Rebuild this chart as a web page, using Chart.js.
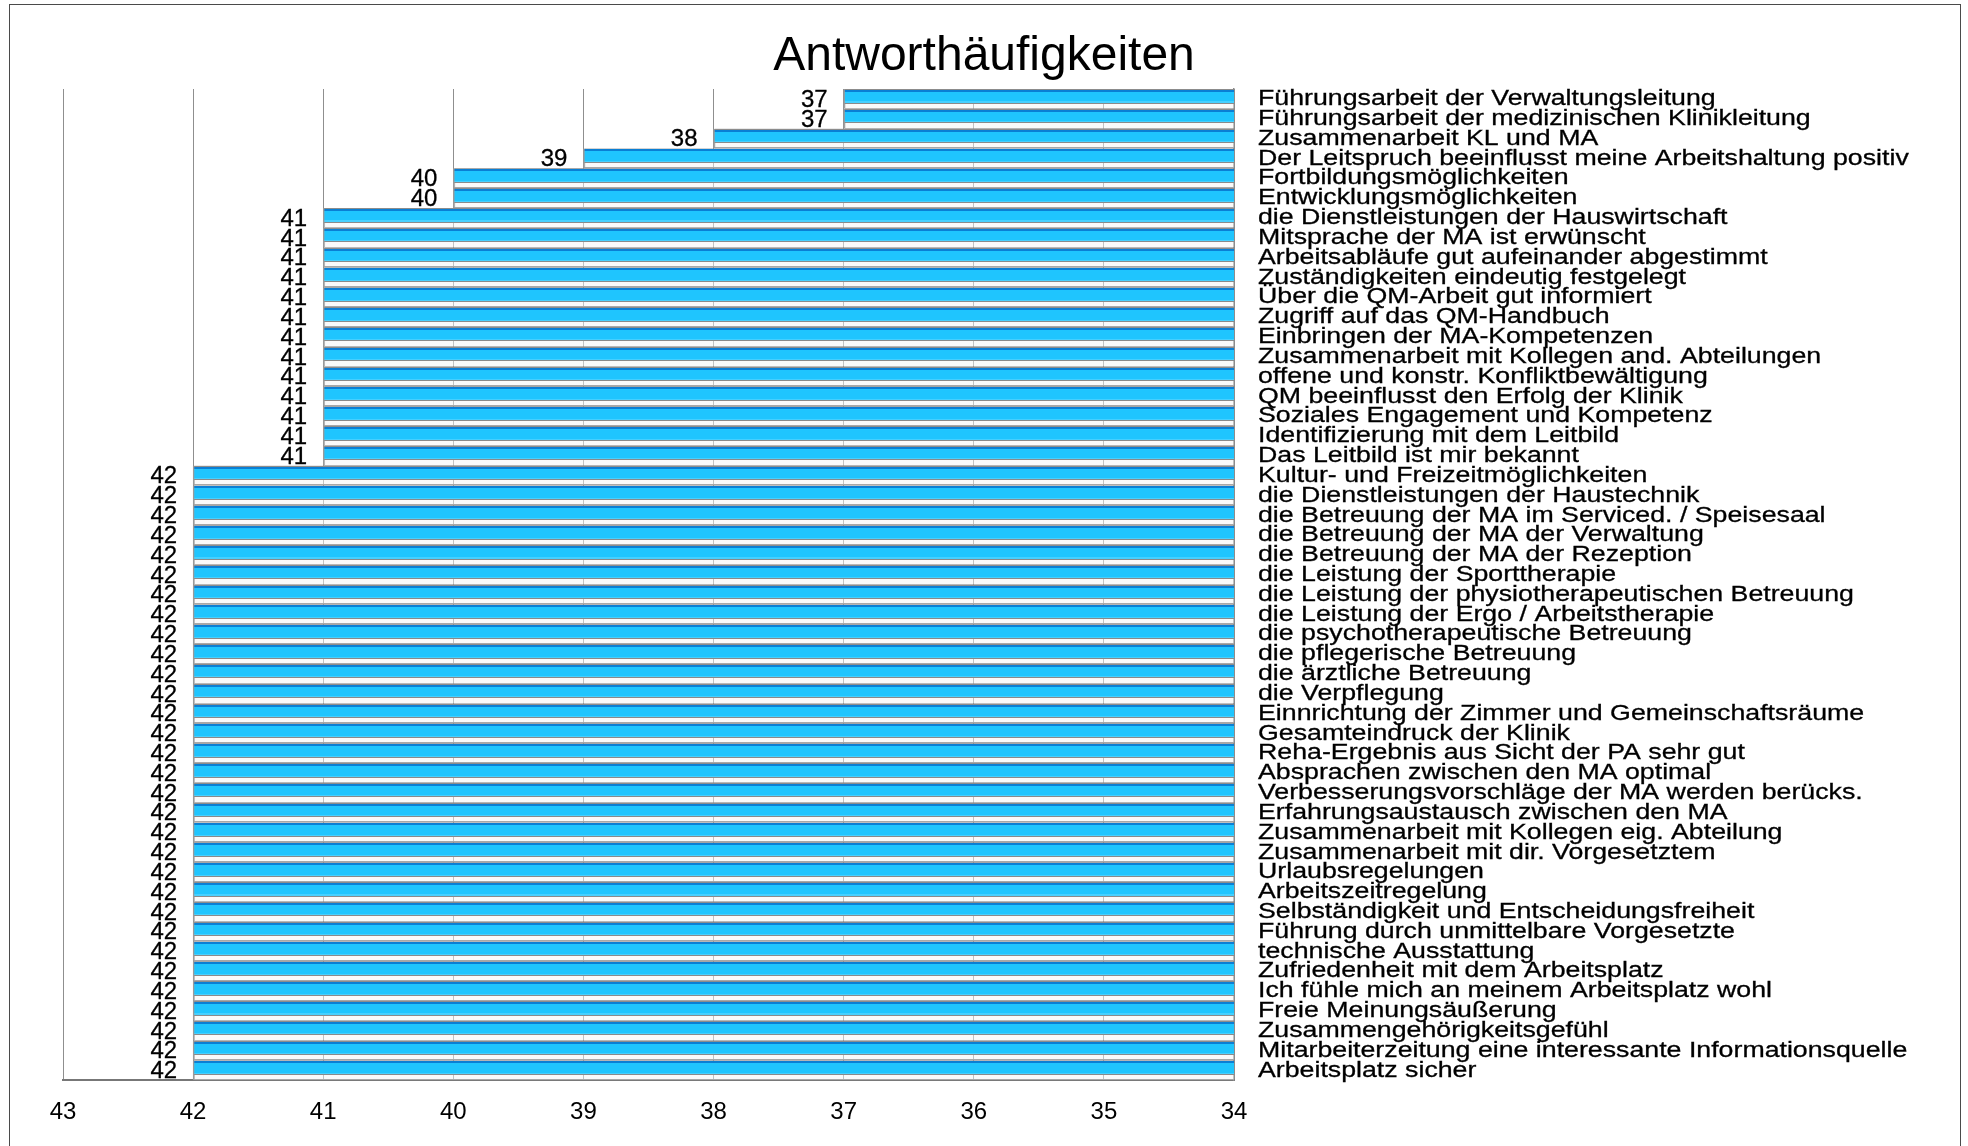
<!DOCTYPE html>
<html>
<head>
<meta charset="utf-8">
<script src="https://cdn.jsdelivr.net/npm/chart.js@4.4.1/dist/chart.umd.min.js"></script>
<style>
  html, body { margin: 0; padding: 0; background: #fff; overflow: hidden; }
  #wrap { position: absolute; left: 0; top: 0; width: 1968px; height: 1146px; }
  #frame {
    position: absolute; left: 9px; top: 4px; width: 1950px; height: 1200px;
    border: 1.5px solid #4a4a4a; pointer-events: none;
  }
</style>
</head>
<body>
<div id="wrap"><canvas id="chart"></canvas></div>
<div id="frame"></div>
<script>
// Fragen (von oben nach unten)
const categories = [
  "Führungsarbeit der Verwaltungsleitung",
  "Führungsarbeit der medizinischen Klinikleitung",
  "Zusammenarbeit KL und MA",
  "Der Leitspruch beeinflusst meine Arbeitshaltung positiv",
  "Fortbildungsmöglichkeiten",
  "Entwicklungsmöglichkeiten",
  "die Dienstleistungen der Hauswirtschaft",
  "Mitsprache der MA ist erwünscht",
  "Arbeitsabläufe gut aufeinander abgestimmt",
  "Zuständigkeiten eindeutig festgelegt",
  "Über die QM-Arbeit gut informiert",
  "Zugriff auf das QM-Handbuch",
  "Einbringen der MA-Kompetenzen",
  "Zusammenarbeit mit Kollegen and. Abteilungen",
  "offene und konstr. Konfliktbewältigung",
  "QM beeinflusst den Erfolg der Klinik",
  "Soziales Engagement und Kompetenz",
  "Identifizierung mit dem Leitbild",
  "Das Leitbild ist mir bekannt",
  "Kultur- und Freizeitmöglichkeiten",
  "die Dienstleistungen der Haustechnik",
  "die Betreuung der MA im Serviced. / Speisesaal",
  "die Betreuung der MA der Verwaltung",
  "die Betreuung der MA der Rezeption",
  "die Leistung der Sporttherapie",
  "die Leistung der physiotherapeutischen Betreuung",
  "die Leistung der Ergo / Arbeitstherapie",
  "die psychotherapeutische Betreuung",
  "die pflegerische Betreuung",
  "die ärztliche Betreuung",
  "die Verpflegung",
  "Einnrichtung der Zimmer und Gemeinschaftsräume",
  "Gesamteindruck der Klinik",
  "Reha-Ergebnis aus Sicht der PA sehr gut",
  "Absprachen zwischen den MA optimal",
  "Verbesserungsvorschläge der MA werden berücks.",
  "Erfahrungsaustausch zwischen den MA",
  "Zusammenarbeit mit Kollegen eig. Abteilung",
  "Zusammenarbeit mit dir. Vorgesetztem",
  "Urlaubsregelungen",
  "Arbeitszeitregelung",
  "Selbständigkeit und Entscheidungsfreiheit",
  "Führung durch unmittelbare Vorgesetzte",
  "technische Ausstattung",
  "Zufriedenheit mit dem Arbeitsplatz",
  "Ich fühle mich an meinem Arbeitsplatz wohl",
  "Freie Meinungsäußerung",
  "Zusammengehörigkeitsgefühl",
  "Mitarbeiterzeitung eine interessante Informationsquelle",
  "Arbeitsplatz sicher",
];

// Antworthäufigkeit je Frage
const counts = [
  37, 37, 38, 39, 40, 40,
  41, 41, 41, 41, 41, 41, 41, 41, 41, 41, 41, 41, 41,
  42, 42, 42, 42, 42, 42, 42, 42, 42, 42, 42, 42, 42, 42, 42, 42, 42,
  42, 42, 42, 42, 42, 42, 42, 42, 42, 42, 42, 42, 42, 42,
];

// x axis range (reversed: 43 left, 34 right)
const axisMin = 34;
const axisMax = 43;

const FONT = '"Liberation Sans", Arial, Helvetica, sans-serif';

// bar face: blue front with a light floor strip under it
const barFill = (ctx) => {
  if (ctx.type !== "data") return "#1fc5fe";
  const chart = ctx.chart;
  const area = chart.chartArea;
  const yScale = chart.scales.y;
  if (!area || !yScale) return "#1fc5fe";
  const h = (area.bottom - area.top) / categories.length;
  const top = yScale.getPixelForValue(ctx.dataIndex) - h / 2;
  const g = chart.ctx.createLinearGradient(0, top, 0, top + h);
  const stops = [
    [0, "#8c8c8c"], [1.0, "#0a7fd4"], [3.0, "#1fc5fe"], [12.5, "#45d0ff"],
    [13.6, "#8a8a8a"], [14.6, "rgba(245,245,245,0.5)"], [18.8, "#a8a8a8"],
  ];
  for (let i = 0; i < stops.length; i++) {
    const from = stops[i][0] / h;
    const to = i + 1 < stops.length ? stops[i + 1][0] / h : 1;
    g.addColorStop(Math.min(from, 1), stops[i][1]);
    g.addColorStop(Math.max(Math.min(to, 1) - 0.0001, 0), stops[i][1]);
  }
  return g;
};

// value numbers left of each bar, question texts right of the plot
const labelPlugin = {
  id: "labels",
  afterDatasetsDraw(chart) {
    const { ctx, chartArea } = chart;
    const xScale = chart.scales.x;
    const yScale = chart.scales.y;
    const h = (chartArea.bottom - chartArea.top) / categories.length;
    ctx.save();
    ctx.fillStyle = "#000";
    ctx.strokeStyle = "#000";
    ctx.lineWidth = 0.3;
    ctx.font = "24px " + FONT;
    ctx.textAlign = "right";
    ctx.textBaseline = "alphabetic";
    counts.forEach((v, i) => {
      const top = yScale.getPixelForValue(i) - h / 2;
      const x = xScale.getPixelForValue(v) - 16;
      ctx.fillText(String(v), x, top + 17.8);
      ctx.strokeText(String(v), x, top + 17.8);
    });
    ctx.font = "22px " + FONT;
    ctx.textAlign = "left";
    categories.forEach((label, i) => {
      const top = yScale.getPixelForValue(i) - h / 2;
      ctx.save();
      ctx.translate(chartArea.right + 24, top + 16.2);
      ctx.scale(1.215, 1);
      ctx.fillText(label, 0, 0);
      ctx.strokeText(label, 0, 0);
      ctx.restore();
    });
    ctx.restore();
  },
};

new Chart(document.getElementById("chart"), {
  type: "bar",
  plugins: [labelPlugin],
  data: {
    labels: categories,
    datasets: [
      {
        data: counts.map((v) => [axisMin, v]),
        backgroundColor: barFill,
        borderColor: "#9a9a9a",
        borderWidth: { top: 0, right: 0, bottom: 0, left: 1.5 },
        borderSkipped: false,
        categoryPercentage: 1,
        barPercentage: 1,
      },
    ],
  },
  options: {
    indexAxis: "y",
    responsive: true,
    maintainAspectRatio: false,
    animation: false,
    layout: { padding: { left: 0, right: 0, top: 0, bottom: 1 } },
    plugins: {
      legend: { display: false },
      tooltip: { enabled: false },
      title: {
        display: true,
        text: "Antworthäufigkeiten",
        color: "#000",
        font: { family: FONT, size: 48, weight: "normal" },
        padding: { top: 28, bottom: 3.4 },
      },
    },
    scales: {
      x: {
        type: "linear",
        min: axisMin,
        max: axisMax,
        reverse: true,
        ticks: {
          stepSize: 1,
          color: "#000",
          padding: 18,
          font: { family: FONT, size: 24 },
        },
        grid: { color: "#8f8f8f", lineWidth: 1, drawTicks: false },
        border: { display: true, color: "#777", width: 2 },
      },
      y: {
        position: "right",
        ticks: { display: false },
        grid: { display: false, drawTicks: false },
        border: { display: true, color: "#8a8a8a", width: 1.5 },
        afterFit(scale) {
          scale.width = 734;
        },
      },
      // empty left margin so the title stays centred on the page
      yLeft: {
        axis: "y",
        position: "left",
        ticks: { display: false },
        grid: { display: false, drawTicks: false },
        border: { display: false },
        afterFit(scale) {
          scale.width = 63;
        },
      },
    },
  },
});
</script>
</body>
</html>
